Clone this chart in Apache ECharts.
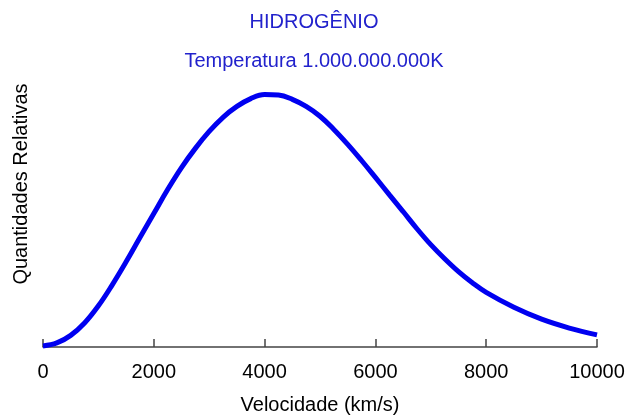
<!DOCTYPE html>
<html>
<head>
<meta charset="utf-8">
<script src="https://cdn.jsdelivr.net/npm/echarts@6/dist/echarts.min.js"></script>
<style>
  html, body { margin: 0; padding: 0; background: #fff; }
  #chart { width: 628px; height: 417px; }
</style>
</head>
<body>
<div id="chart"></div>
<script>
  // velocidade (km/s) e quantidades relativas (pico = 1)
  var velocidades = [0, 250, 500, 750, 1000, 1250, 1500, 1750, 2000, 2250, 2500, 2750,
    3000, 3250, 3500, 3750, 4000, 4250, 4500, 4750, 5000, 5250, 5500, 5750,
    6000, 6250, 6500, 6750, 7000, 7250, 7500, 7750, 8000, 8500, 9000, 9500, 10000]
  var quantidades = [0.004, 0.016, 0.046, 0.095, 0.163, 0.246, 0.337, 0.433, 0.528, 0.623, 0.710, 0.786,
    0.853, 0.909, 0.952, 0.983, 0.999, 0.997, 0.980, 0.952, 0.913, 0.861, 0.802, 0.738,
    0.671, 0.603, 0.536, 0.468, 0.405, 0.349, 0.298, 0.254, 0.216, 0.157, 0.110, 0.075, 0.048]
  var xTicks = [0, 2000, 4000, 6000, 8000, 10000]

  var titulo = 'HIDROGÊNIO'
  var subtitulo = 'Temperatura 1.000.000.000K'
  var nomeX = 'Velocidade (km/s)'
  var nomeY = 'Quantidades Relativas'

  var fonte = 'Liberation Sans, Arial, sans-serif'
  var azul = '#0000f0'

  var myChart = echarts.init(document.getElementById('chart'))

  var pontos = velocidades.map(function (v, i) { return [v, quantidades[i]] })

  var option = {
    backgroundColor: '#fff',
    animation: false,
    title: [
      {
        text: titulo,
        left: 'center',
        top: 7,
        textStyle: { color: '#2222cc', fontFamily: fonte, fontSize: 20, fontWeight: 'normal' }
      },
      {
        text: subtitulo,
        left: 'center',
        top: 46,
        textStyle: { color: '#2222cc', fontFamily: fonte, fontSize: 20, fontWeight: 'normal' }
      }
    ],
    grid: {
      left: 43,
      right: 31,
      top: 21,
      bottom: 70,
      containLabel: false,
      outerBoundsMode: 'none'
    },
    xAxis: {
      type: 'value',
      min: xTicks[0],
      max: xTicks[xTicks.length - 1],
      interval: 2000,
      name: nomeX,
      nameLocation: 'middle',
      nameGap: 48,
      nameTextStyle: { color: '#000', fontFamily: fonte, fontSize: 20 },
      axisLine: { onZero: false, lineStyle: { color: '#444', width: 1.5 } },
      axisTick: { inside: true, length: 8, lineStyle: { color: '#444', width: 1.5 } },
      axisLabel: {
        color: '#000',
        fontFamily: fonte,
        fontSize: 20,
        margin: 15,
        formatter: function (v) { return String(v) }
      },
      splitLine: { show: false }
    },
    yAxis: {
      type: 'value',
      min: 0,
      max: 1.29,
      name: nomeY,
      nameLocation: 'middle',
      nameRotate: 90,
      nameGap: 12,
      nameTextStyle: { color: '#000', fontFamily: fonte, fontSize: 20 },
      axisLine: { show: false },
      axisTick: { show: false },
      axisLabel: { show: false },
      splitLine: { show: false }
    },
    series: [
      {
        type: 'line',
        data: pontos,
        smooth: 0.4,
        showSymbol: false,
        lineStyle: { color: azul, width: 5 }
      }
    ]
  }

  myChart.setOption(option, true)
</script>
</body>
</html>
